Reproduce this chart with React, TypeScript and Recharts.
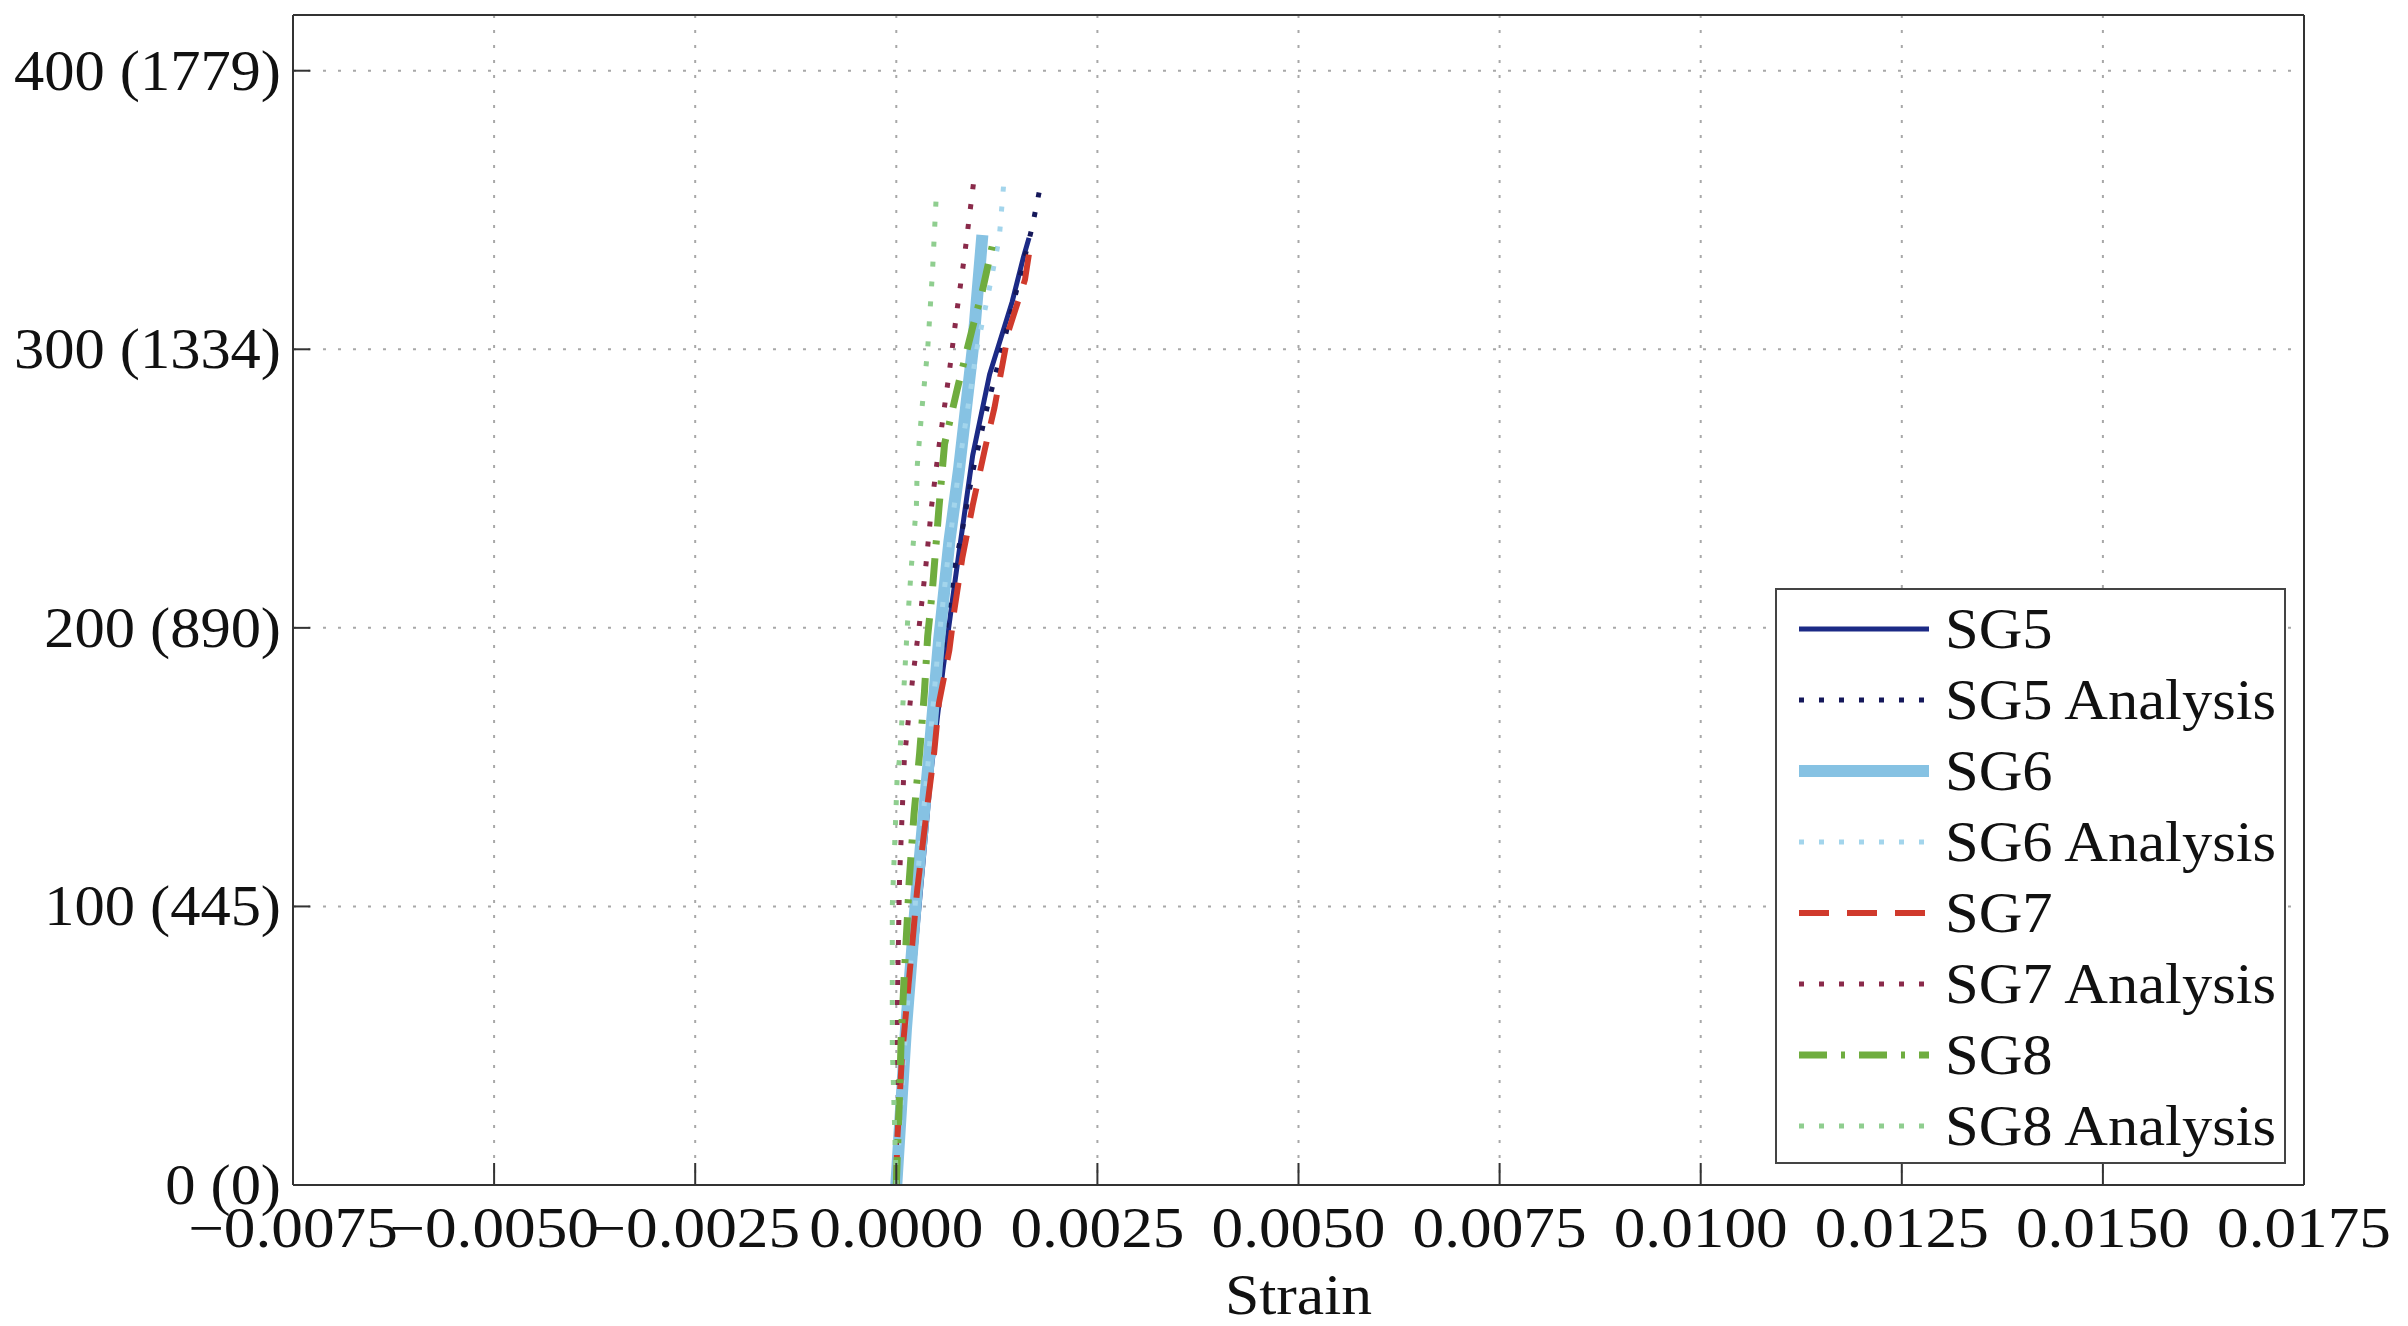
import React from 'react';
import {
  LineChart,
  Line,
  XAxis,
  YAxis,
  CartesianGrid,
  Legend,
} from 'recharts';

// strain (x) vs load (y)
const sg5 = [
  { x: 0, y: 0 }, { x: 0.0001, y: 40 }, { x: 0.00022, y: 80 }, { x: 0.00033, y: 115 },
  { x: 0.00043, y: 148 }, { x: 0.00058, y: 185 }, { x: 0.00075, y: 221 }, { x: 0.00095, y: 262 },
  { x: 0.00116, y: 291 }, { x: 0.00144, y: 317 }, { x: 0.00158, y: 333 }, { x: 0.00165, y: 340 },
];
const sg5Analysis = [
  { x: 0, y: 0 }, { x: 0.0001, y: 45 }, { x: 0.00022, y: 90 }, { x: 0.00035, y: 130 },
  { x: 0.00047, y: 165 }, { x: 0.00058, y: 193 }, { x: 0.00072, y: 221 }, { x: 0.00082, y: 235 },
  { x: 0.00095, y: 256 }, { x: 0.00112, y: 278 }, { x: 0.0014, y: 310 }, { x: 0.00169, y: 344 },
  { x: 0.00178, y: 357 },
];
const sg6 = [
  { x: 0, y: 0 }, { x: 0.00012, y: 56 }, { x: 0.00025, y: 104 }, { x: 0.00039, y: 148 },
  { x: 0.00053, y: 195 }, { x: 0.00066, y: 231 }, { x: 0.00078, y: 257 }, { x: 0.00095, y: 300 },
  { x: 0.00107, y: 341 },
];
const sg6Analysis = [
  { x: 0, y: 0 }, { x: 0.00012, y: 58 }, { x: 0.00025, y: 106 }, { x: 0.00039, y: 150 },
  { x: 0.00053, y: 196 }, { x: 0.00066, y: 230 }, { x: 0.0008, y: 262 }, { x: 0.001, y: 300 },
  { x: 0.00118, y: 325 }, { x: 0.00128, y: 340 }, { x: 0.00134, y: 361 },
];
const sg7 = [
  { x: 0, y: 0 }, { x: 0.00001, y: 15 }, { x: 0.00007, y: 46 }, { x: 0.00014, y: 68 },
  { x: 0.0002, y: 87 }, { x: 0.00026, y: 106 }, { x: 0.00031, y: 118 }, { x: 0.00039, y: 137 },
  { x: 0.00047, y: 155 }, { x: 0.00053, y: 173 }, { x: 0.00066, y: 192 }, { x: 0.00072, y: 206 },
  { x: 0.00082, y: 225 }, { x: 0.00095, y: 244 }, { x: 0.0011, y: 264 }, { x: 0.00122, y: 279 },
  { x: 0.0014, y: 307 }, { x: 0.0016, y: 325 }, { x: 0.00168, y: 340 },
];
const sg7Analysis = [
  { x: 0, y: 0 }, { x: 0.00001, y: 60 }, { x: 0.00004, y: 110 }, { x: 0.0001, y: 153 },
  { x: 0.0002, y: 181 }, { x: 0.00029, y: 202 }, { x: 0.00037, y: 223 }, { x: 0.00044, y: 244 },
  { x: 0.00053, y: 265 }, { x: 0.00066, y: 292 }, { x: 0.00075, y: 313 }, { x: 0.00085, y: 334 },
  { x: 0.00091, y: 348 }, { x: 0.00097, y: 362 },
];
const sg8 = [
  { x: 0, y: 0 }, { x: 0.00004, y: 32 }, { x: 0.00006, y: 52 }, { x: 0.0001, y: 76 },
  { x: 0.00014, y: 97 }, { x: 0.00016, y: 109 }, { x: 0.00022, y: 133 }, { x: 0.00029, y: 155 },
  { x: 0.00035, y: 177 }, { x: 0.00039, y: 197 }, { x: 0.00045, y: 214 }, { x: 0.00053, y: 243 },
  { x: 0.0006, y: 266 }, { x: 0.00076, y: 286 }, { x: 0.00095, y: 308 }, { x: 0.00107, y: 321 },
  { x: 0.0012, y: 338 },
];
const sg8Analysis = [
  { x: 0, y: 0 }, { x: -0.00005, y: 50 }, { x: -0.00005, y: 100 }, { x: -0.00001, y: 130 },
  { x: 0.00001, y: 146 }, { x: 0.00004, y: 153 }, { x: 0.00007, y: 167 }, { x: 0.0001, y: 181 },
  { x: 0.00014, y: 202 }, { x: 0.00019, y: 223 }, { x: 0.00025, y: 244 }, { x: 0.00026, y: 258 },
  { x: 0.00032, y: 279 }, { x: 0.00039, y: 300 }, { x: 0.00045, y: 328 }, { x: 0.0005, y: 357 },
];

const xTicks = [-0.0075, -0.005, -0.0025, 0, 0.0025, 0.005, 0.0075, 0.01, 0.0125, 0.015, 0.0175];
const xLabels = ['\u22120.0075', '\u22120.0050', '\u22120.0025', '0.0000', '0.0025', '0.0050', '0.0075', '0.0100', '0.0125', '0.0150', '0.0175'];
const yTicks = [0, 100, 200, 300, 400];
const yLabels = ['0 (0)', '100 (445)', '200 (890)', '300 (1334)', '400 (1779)'];

const series = [
  { name: 'SG5', data: sg5, color: '#1c2a86', width: 5, dash: undefined },
  { name: 'SG5 Analysis', data: sg5Analysis, color: '#15185a', width: 5, dash: '5 15' },
  { name: 'SG6', data: sg6, color: '#86c2e3', width: 12, dash: undefined },
  { name: 'SG6 Analysis', data: sg6Analysis, color: '#a3d5ec', width: 5, dash: '5 15' },
  { name: 'SG7', data: sg7, color: '#d03a2c', width: 6, dash: '30 18' },
  { name: 'SG7 Analysis', data: sg7Analysis, color: '#8a2a4a', width: 5, dash: '5 15' },
  { name: 'SG8', data: sg8, color: '#6fad3f', width: 7, dash: '28 14 4 14' },
  { name: 'SG8 Analysis', data: sg8Analysis, color: '#8fce8f', width: 5, dash: '5 15' },
];

const FONT = '"Liberation Serif", "Times New Roman", serif';
const FS = 56;

const XTick = (props: any) => {
  const { x, y, payload } = props;
  const i = xTicks.indexOf(payload.value);
  return (
    <text
      transform={`translate(${x},${y + 52}) scale(1.13,1)`}
      textAnchor="middle"
      fontFamily={FONT}
      fontSize={FS}
      fill="#111"
    >
      {i >= 0 ? xLabels[i] : ''}
    </text>
  );
};

const YTick = (props: any) => {
  const { x, y, payload } = props;
  const i = yTicks.indexOf(payload.value);
  return (
    <text
      transform={`translate(${x},${y + 19}) scale(1.08,1)`}
      textAnchor="end"
      fontFamily={FONT}
      fontSize={FS}
      fill="#111"
    >
      {i >= 0 ? yLabels[i] : ''}
    </text>
  );
};

const StrainLabel = (props: any) => {
  const vb = props.viewBox || { x: 0, y: 0, width: 0, height: 0 };
  return (
    <text
      transform={`translate(${vb.x + vb.width / 2},${vb.y + vb.height - 1}) scale(1.1,1)`}
      textAnchor="middle"
      fontFamily={FONT}
      fontSize={FS}
      fill="#111"
    >
      Strain
    </text>
  );
};

const LegendBox = () => (
  <div
    style={{
      boxSizing: 'border-box',
      width: 511,
      height: 576,
      border: '2px solid #444',
      background: '#fff',
      paddingTop: 4,
    }}
  >
    {series.map(s => (
      <div key={s.name} style={{ display: 'flex', alignItems: 'center', height: 71 }}>
        <svg width={168} height={71} style={{ flex: 'none' }}>
          <line
            x1={22}
            x2={152}
            y1={35}
            y2={35}
            stroke={s.color}
            strokeWidth={s.width}
            strokeDasharray={s.dash}
          />
        </svg>
        <span
          style={{
            display: 'inline-block',
            fontFamily: FONT,
            fontSize: FS,
            color: '#111',
            lineHeight: '71px',
            whiteSpace: 'nowrap',
            transform: 'scaleX(1.08)',
            transformOrigin: 'left center',
          }}
        >
          {s.name}
        </span>
      </div>
    ))}
  </div>
);

export default function App() {
  return (
    <div style={{ position: 'absolute', left: 0, top: 0, background: '#fff' }}>
      <LineChart width={2408} height={1326} margin={{ top: 14, right: 103, left: 0, bottom: 11 }}>
        <CartesianGrid stroke="#a8a8a8" strokeWidth={2} strokeDasharray="3 12" />
        <XAxis
          type="number"
          dataKey="x"
          domain={[-0.0075, 0.0175]}
          ticks={xTicks}
          interval={0}
          allowDataOverflow
          height={130}
          tickSize={-22}
          tickMargin={32}
          tick={<XTick />}
          axisLine={{ stroke: '#333', strokeWidth: 2 }}
          tickLine={{ stroke: '#333', strokeWidth: 2 }}
          label={<StrainLabel />}
        />
        <XAxis
          xAxisId="top"
          orientation="top"
          type="number"
          dataKey="x"
          domain={[-0.0075, 0.0175]}
          ticks={xTicks}
          interval={0}
          allowDataOverflow
          height={1}
          tickSize={-22}
          tick={false}
          axisLine={{ stroke: '#333', strokeWidth: 2 }}
          tickLine={{ stroke: '#333', strokeWidth: 2 }}
        />
        <YAxis
          type="number"
          dataKey="y"
          domain={[0, 420]}
          ticks={yTicks}
          interval={0}
          allowDataOverflow
          width={293}
          tickSize={-17}
          tickMargin={29}
          tick={<YTick />}
          axisLine={{ stroke: '#333', strokeWidth: 2 }}
          tickLine={{ stroke: '#333', strokeWidth: 2 }}
        />
        <YAxis
          yAxisId="right"
          orientation="right"
          type="number"
          domain={[0, 420]}
          ticks={yTicks}
          interval={0}
          allowDataOverflow
          width={1}
          tickSize={-17}
          tick={false}
          axisLine={{ stroke: '#333', strokeWidth: 2 }}
          tickLine={{ stroke: '#333', strokeWidth: 2 }}
        />
        {series.map(s => (
          <Line
            key={s.name}
            data={s.data}
            dataKey="y"
            name={s.name}
            type="linear"
            stroke={s.color}
            strokeWidth={s.width}
            strokeDasharray={s.dash}
            strokeLinecap="butt"
            dot={false}
            activeDot={false}
            isAnimationActive={false}
          />
        ))}
        <Legend
          layout="vertical"
          align="center"
          verticalAlign="middle"
          width={511}
          height={576}
          wrapperStyle={{ left: 1775, top: 588, width: 511, height: 576 }}
          content={() => <LegendBox />}
        />
      </LineChart>
    </div>
  );
}
